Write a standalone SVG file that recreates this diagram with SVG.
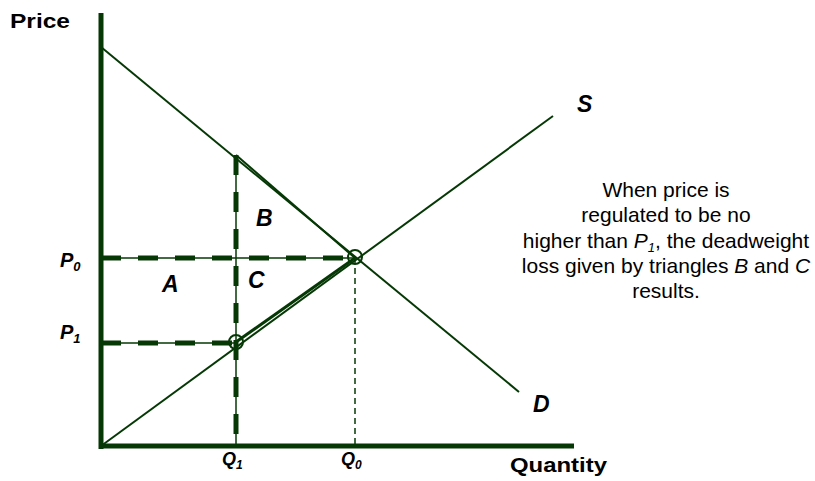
<svg xmlns="http://www.w3.org/2000/svg" width="815" height="481" viewBox="0 0 815 481">
<style>
.ln{stroke:#063806;fill:none}
.lbl{font-family:"Liberation Sans",Arial,sans-serif;font-weight:bold;font-style:italic;fill:#000}
.ax{font-family:"Liberation Sans",Arial,sans-serif;font-weight:bold;fill:#000;font-size:21px}
.note{font-family:"Liberation Sans",Arial,sans-serif;fill:#000;font-size:21px}
.thickdash{stroke:#063806;stroke-width:5;stroke-dasharray:20 17;fill:none}
.thin{stroke:#063806;stroke-width:1.5;fill:none}
</style>
<rect width="815" height="481" fill="#fff"/>
<g id="connectors">
<line class="ln" x1="101" y1="13" x2="101" y2="449" stroke-width="5"/>
<line class="ln" x1="99" y1="446" x2="574" y2="446" stroke-width="5"/>
<line id="demand" class="ln" x1="101" y1="47" x2="519" y2="392" stroke-width="2"/>
<line id="supply" class="ln" x1="101" y1="446" x2="553" y2="116" stroke-width="2"/>
<line class="ln" x1="236" y1="155" x2="355" y2="258" stroke-width="2"/>
<line class="ln" x1="236" y1="342" x2="355" y2="258" stroke-width="3"/>
<line class="thin" x1="101" y1="258" x2="356" y2="258"/>
<line class="thin" x1="101" y1="343" x2="236" y2="343"/>
<line class="thin" x1="236" y1="155" x2="236" y2="446"/>
<line class="thickdash" x1="101" y1="258" x2="356" y2="258"/>
<line class="thickdash" x1="101" y1="343" x2="236" y2="343"/>
<line class="thickdash" x1="236" y1="155" x2="236" y2="446"/>
<line class="ln" x1="355" y1="258" x2="355" y2="446" stroke-width="1.5" stroke-dasharray="6 4"/>
<circle class="ln" cx="236" cy="342" r="7" stroke-width="2"/>
<circle class="ln" cx="355" cy="257" r="7" stroke-width="2"/>
</g>
<g id="labels">
<text class="ax" x="10" y="28" textLength="60" lengthAdjust="spacingAndGlyphs">Price</text>
<text class="ax" x="510" y="472" textLength="97" lengthAdjust="spacingAndGlyphs">Quantity</text>
<text class="lbl" x="577" y="112" font-size="23">S</text>
<text class="lbl" x="533" y="412" font-size="23">D</text>
<text class="lbl" x="60" y="267" font-size="20">P<tspan font-size="13" dy="4">0</tspan></text>
<text class="lbl" x="60" y="339" font-size="20">P<tspan font-size="13" dy="4">1</tspan></text>
<text class="lbl" x="162" y="292" font-size="23">A</text>
<text class="lbl" x="256" y="226" font-size="23">B</text>
<text class="lbl" x="248" y="288" font-size="23">C</text>
<text class="lbl" x="222" y="465" font-size="18">Q<tspan font-size="12" dy="4">1</tspan></text>
<text class="lbl" x="341" y="465" font-size="18">Q<tspan font-size="12" dy="4">0</tspan></text>
</g>
<g id="note" class="note" text-anchor="middle">
<text x="666" y="197">When price is</text>
<text x="666" y="222">regulated to be no</text>
<text x="666" y="248">higher than <tspan font-style="italic">P</tspan><tspan font-style="italic" font-size="13" dy="4">1</tspan><tspan dy="-4">, the deadweight</tspan></text>
<text x="666" y="273">loss given by triangles <tspan font-style="italic">B</tspan> and <tspan font-style="italic">C</tspan></text>
<text x="666" y="298">results.</text>
</g>
</svg>
